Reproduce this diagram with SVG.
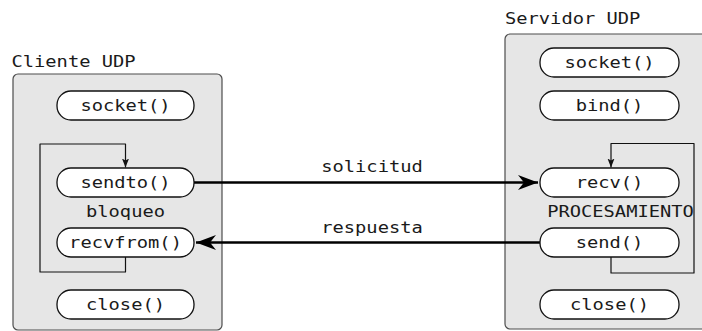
<svg xmlns="http://www.w3.org/2000/svg" width="702" height="331" viewBox="0 0 702 331">
  <defs>
    <style>
      .box { fill: #e6e6e6; stroke: #4d4d4d; stroke-width: 1.2; }
      .pill { fill: #ffffff; stroke: #111111; stroke-width: 1.3; }
      .t { font-family: "DejaVu Sans Mono", "Liberation Mono", monospace; font-size: 15.5px; fill: #1a1a1a; }
      .mid { text-anchor: middle; }
      .loop { fill: none; stroke: #111111; stroke-width: 1.2; stroke-linejoin: round; }
      .msg { fill: none; stroke: #000000; stroke-width: 2.6; }
    </style>
    <marker id="bigArrow" markerUnits="userSpaceOnUse" markerWidth="22" markerHeight="18" viewBox="-21 -9 22 18" refX="0" refY="0" orient="auto">
      <path d="M0,0 L-20,-7.5 L-14,0 L-20,7.5 Z" fill="#000000"/>
    </marker>
    <marker id="smallArrow" markerUnits="userSpaceOnUse" markerWidth="10" markerHeight="10" viewBox="-9 -5 10 10" refX="0" refY="0" orient="auto">
      <path d="M0,0 L-9,-3.5 L-7,0 L-9,3.5 Z" fill="#111111"/>
    </marker>
  </defs>

  <!-- client side -->
  <g id="client">
    <text class="t" transform="translate(11.5 67) scale(1.21 1)">Cliente UDP</text>
    <rect class="box" x="13" y="74" width="209" height="256" rx="5"/>
  </g>

  <!-- server side -->
  <g id="server">
    <text class="t" transform="translate(505 24) scale(1.21 1)">Servidor UDP</text>
    <rect class="box" x="505" y="34" width="210" height="295" rx="5"/>
  </g>

  <!-- loops and message arrows -->
  <g id="connectors">
    <path class="loop" d="M125.5,257 V272 H40 V144 H125.5 V167.5" marker-end="url(#smallArrow)"/>
    <path class="loop" d="M611,257 V273 H694 V143.5 H611 V167.5" marker-end="url(#smallArrow)"/>
    <path class="msg" d="M194,182.5 H538" marker-end="url(#bigArrow)"/>
    <path class="msg" d="M540,242.5 H196" marker-end="url(#bigArrow)"/>
    <text class="t mid" transform="translate(372 172) scale(1.21 1)">solicitud</text>
    <text class="t mid" transform="translate(372 233) scale(1.21 1)">respuesta</text>
  </g>

  <!-- client calls -->
  <g id="c-socket">
    <rect class="pill" x="57" y="91" width="137" height="29" rx="14" ry="14"/>
    <text class="t mid" transform="translate(125.5 111) scale(1.21 1)">socket()</text>
  </g>
  <g id="c-sendto">
    <rect class="pill" x="57" y="168" width="137" height="29" rx="14" ry="14"/>
    <text class="t mid" transform="translate(125.5 188) scale(1.21 1)">sendto()</text>
  </g>
  <g id="c-bloqueo">
    <text class="t mid" transform="translate(125.5 217) scale(1.21 1)">bloqueo</text>
  </g>
  <g id="c-recvfrom">
    <rect class="pill" x="57" y="228" width="137" height="29" rx="14" ry="14"/>
    <text class="t mid" transform="translate(125.5 248) scale(1.21 1)">recvfrom()</text>
  </g>
  <g id="c-close">
    <rect class="pill" x="57" y="290" width="137" height="29" rx="14" ry="14"/>
    <text class="t mid" transform="translate(125.5 310) scale(1.21 1)">close()</text>
  </g>

  <!-- server calls -->
  <g id="s-socket">
    <rect class="pill" x="540" y="48" width="139" height="29" rx="14" ry="14"/>
    <text class="t mid" transform="translate(609.5 68) scale(1.21 1)">socket()</text>
  </g>
  <g id="s-bind">
    <rect class="pill" x="540" y="91" width="139" height="29" rx="14" ry="14"/>
    <text class="t mid" transform="translate(609.5 111) scale(1.21 1)">bind()</text>
  </g>
  <g id="s-recv">
    <rect class="pill" x="540" y="168" width="139" height="29" rx="14" ry="14"/>
    <text class="t mid" transform="translate(609.5 188) scale(1.21 1)">recv()</text>
  </g>
  <g id="s-procesamiento">
    <text class="t mid" transform="translate(620.5 217) scale(1.21 1)">PROCESAMIENTO</text>
  </g>
  <g id="s-send">
    <rect class="pill" x="540" y="228" width="139" height="29" rx="14" ry="14"/>
    <text class="t mid" transform="translate(609.5 248) scale(1.21 1)">send()</text>
  </g>
  <g id="s-close">
    <rect class="pill" x="540" y="290" width="139" height="29" rx="14" ry="14"/>
    <text class="t mid" transform="translate(609.5 310) scale(1.21 1)">close()</text>
  </g>
</svg>
